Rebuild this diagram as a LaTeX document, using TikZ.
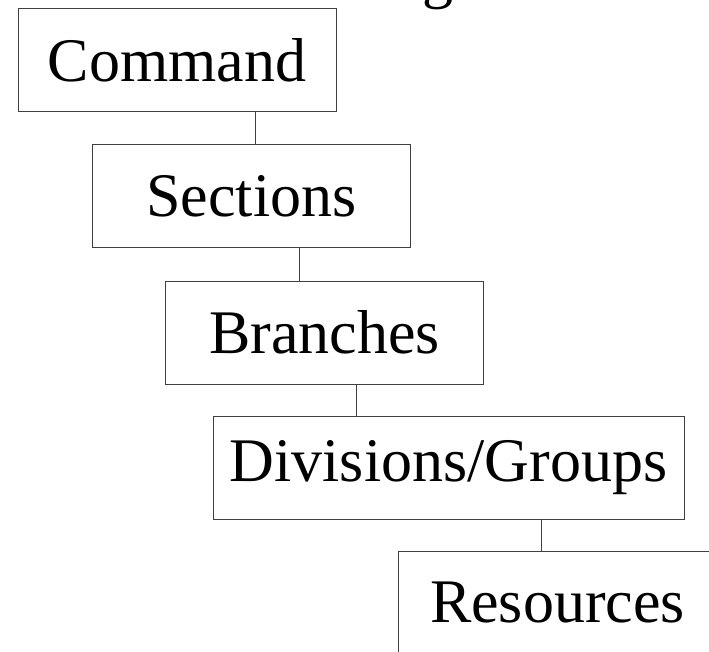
\documentclass[tikz,border=0pt]{standalone}
\usepackage{fontspec}
\setmainfont{Liberation Serif}
\usetikzlibrary{positioning,calc}

\tikzset{
	level/.style={draw=black!75, line width=1pt, minimum width=318pt, minimum height=103pt,
		inner sep=0pt, font=\fontsize{62}{70}\selectfont},
	link/.style={draw=black!75, line width=1pt}
}

\begin{document}
\begin{tikzpicture}[x=1pt, y=1pt]
	\useasboundingbox (0, 0) rectangle (709, -652);

	% Title (cut off at the top):
	\node[anchor=base, inner sep=0pt, font=\fontsize{62}{70}\selectfont] (ttl) at (438, 3) {g};

	% Boxes:
	\node[level] (cmd) at (177, -60.5) {Command};
	\node[level] (sec) at (251.5, -196.5) {Sections};
	\node[level] (bra) at (324.5, -332.5) {Branches};
	\node[level, minimum width=471pt] (div) at (448.5, -468) {Divisions/Groups};
	\node[level] (res) at (557.5, -602.5) {Resources};

	% Lines:
	\draw[link] ($(cmd.south west)!0.745!(cmd.south east)$) coordinate (c1) -- (c1 |- sec.north);
	\draw[link] ($(sec.south west)!0.649!(sec.south east)$) coordinate (c2) -- (c2 |- bra.north);
	\draw[link] ($(bra.south west)!0.599!(bra.south east)$) coordinate (c3) -- (c3 |- div.north);
	\draw[link] ($(div.south west)!0.696!(div.south east)$) coordinate (c4) -- (c4 |- res.north);

\end{tikzpicture}
\end{document}
